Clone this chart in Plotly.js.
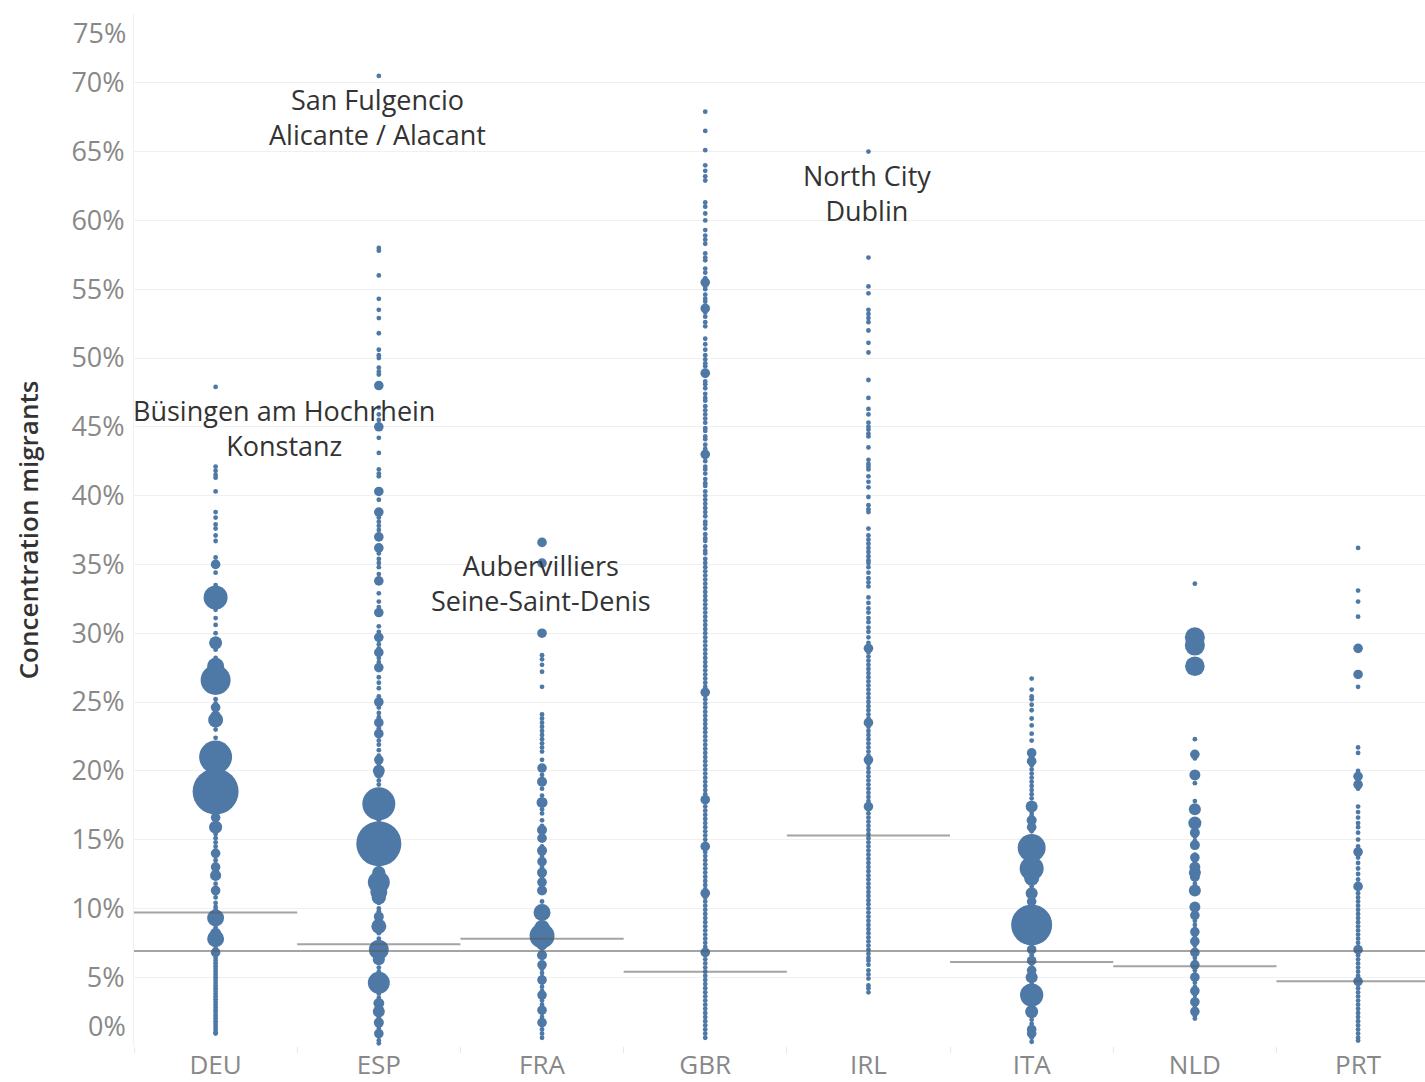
<!DOCTYPE html>
<html><head><meta charset="utf-8">
<script src="https://cdn.plot.ly/plotly-3.0.1.min.js"></script>
<style>html,body{margin:0;padding:0;background:#fff;overflow:hidden}</style>
</head><body><div id="chart" style="width:1425px;height:1082px"></div>
<script>
// ---------------- DATA ----------------
const countries = ['DEU','ESP','FRA','GBR','IRL','ITA','NLD','PRT'];
const countryMean = [9.7, 7.4, 7.8, 5.4, 15.3, 6.1, 5.8, 4.7];
const overallMean = 6.9;
const yTicks = [0,5,10,15,20,25,30,35,40,45,50,55,60,65,70,75];

// small regions (drawn at minimum mark size)
const deuMinor = [47.9, 42.1, 41.8, 41.5, 41.3, 40.3, 38.8, 38.4, 37.9, 37.6, 37.1, 36.7, 35.5, 34.4, 33.5, 31.7, 31.1, 30.6, 30.0, 28.8, 28.2, 25.8, 25.2, 24.9, 24.4, 23.0, 22.4, 20.1, 19.6, 17.0, 16.6, 15.4, 15.1, 14.8, 14.5, 14.2, 13.9, 13.5, 13.2, 12.9, 11.8, 11.5, 11.1, 10.8, 10.4, 10.1, 9.9, 8.6, 8.3, 7.1, 6.6, 6.4, 6.2, 6.0, 5.8, 5.6, 5.4, 5.2, 5.0, 4.8, 4.6, 4.4, 4.2, 4.0, 3.8, 3.6, 3.4, 3.2, 3.0, 2.8, 2.6, 2.4, 2.2, 2.0, 1.8, 1.6, 1.4, 1.2, 1.0, 0.9];
const espMinor = [70.5, 58.0, 57.8, 56.0, 54.3, 53.5, 52.9, 51.8, 50.6, 50.2, 50.0, 49.3, 49.0, 48.8, 46.4, 45.9, 45.5, 44.2, 43.1, 41.9, 41.6, 41.4, 39.7, 38.4, 38.1, 37.8, 37.5, 35.8, 35.4, 35.1, 34.8, 34.3, 32.9, 32.3, 31.9, 30.5, 30.1, 29.2, 28.9, 28.2, 27.9, 26.8, 26.4, 26.0, 25.4, 24.6, 24.2, 23.9, 23.1, 22.5, 22.2, 21.9, 21.5, 21.1, 20.5, 19.3, 19.0, 18.6, 16.4, 16.1, 13.2, 12.9, 10.4, 10.0, 9.8, 8.2, 7.8, 5.7, 5.4, 5.1, 3.8, 3.5, 2.1, 1.3, 1.0, 0.7, 0.4, 0.2];
const fraMinor = [28.4, 28.1, 27.7, 27.2, 26.1, 24.1, 23.8, 23.5, 23.2, 22.9, 22.6, 22.3, 22.0, 21.7, 21.4, 20.8, 19.7, 18.7, 18.2, 17.2, 16.9, 16.4, 16.0, 14.5, 13.8, 13.0, 12.2, 11.8, 10.5, 10.1, 8.9, 7.2, 6.0, 5.6, 5.3, 5.0, 4.6, 4.3, 4.0, 3.6, 3.3, 3.0, 2.7, 2.4, 2.1, 1.8, 1.5, 1.2, 0.9, 0.6];
const gbrMinor = [67.9, 66.5, 65.1, 64.0, 63.6, 63.2, 62.9, 61.3, 61.0, 60.5, 60.0, 59.3, 58.9, 58.6, 58.3, 57.6, 57.3, 57.1, 56.5, 56.2, 55.8, 55.2, 55.0, 54.6, 54.3, 54.1, 53.8, 53.3, 53.0, 52.6, 52.3, 51.4, 51.0, 50.6, 50.2, 49.9, 49.6, 49.4, 49.0, 48.7, 48.3, 48.1, 47.8, 47.4, 47.1, 46.9, 46.5, 46.2, 45.9, 45.6, 45.3, 44.9, 44.7, 44.3, 44.1, 43.7, 43.4, 43.2, 42.8, 42.5, 42.1, 41.9, 41.6, 41.2, 40.9, 40.7, 40.3, 40.0, 39.7, 39.4, 39.1, 38.8, 38.5, 38.1, 37.9, 37.6, 37.2, 36.9, 36.7, 36.3, 36.0, 35.8, 35.4, 35.1, 34.8, 34.5, 34.2, 33.9, 33.6, 33.3, 33.0, 32.7, 32.4, 32.1, 31.8, 31.5, 31.2, 30.9, 30.6, 30.3, 30.0, 29.7, 29.4, 29.1, 28.8, 28.5, 28.2, 27.9, 27.6, 27.3, 27.0, 26.7, 26.4, 26.1, 25.8, 25.5, 25.2, 24.9, 24.6, 24.3, 24.0, 23.7, 23.4, 23.1, 22.8, 22.5, 22.2, 21.9, 21.6, 21.3, 21.0, 20.7, 20.4, 20.1, 19.8, 19.5, 19.2, 18.9, 18.6, 18.3, 18.0, 17.7, 17.4, 17.1, 16.8, 16.5, 16.2, 15.9, 15.6, 15.3, 15.0, 14.7, 14.4, 14.1, 13.8, 13.5, 13.2, 12.9, 12.6, 12.3, 12.0, 11.7, 11.4, 11.1, 10.8, 10.5, 10.2, 9.9, 9.6, 9.3, 9.0, 8.7, 8.4, 8.1, 7.8, 7.5, 7.2, 6.9, 6.6, 6.3, 6.0, 5.7, 5.4, 5.1, 4.8, 4.5, 4.2, 3.9, 3.6, 3.3, 3.0, 2.7, 2.4, 2.1, 1.8, 1.5, 1.2, 0.9, 0.6];
const irlMinor = [65.0, 57.3, 55.2, 54.7, 53.5, 53.2, 52.9, 52.6, 52.0, 51.1, 50.4, 48.4, 47.1, 46.3, 45.9, 45.3, 45.0, 44.8, 44.5, 44.3, 43.5, 42.6, 42.3, 42.1, 41.9, 41.4, 41.0, 40.6, 39.9, 39.3, 39.0, 38.8, 37.6, 37.1, 36.8, 36.5, 36.2, 35.9, 35.6, 35.3, 35.1, 34.8, 34.4, 34.0, 33.7, 33.4, 32.6, 32.2, 31.8, 31.5, 31.1, 30.8, 30.4, 30.1, 29.7, 29.3, 28.6, 28.3, 28.0, 27.7, 27.4, 27.1, 26.8, 26.5, 26.2, 25.9, 25.6, 25.3, 25.0, 24.7, 24.4, 24.1, 23.8, 23.5, 23.2, 22.9, 22.6, 22.3, 22.0, 21.7, 21.4, 21.1, 20.8, 20.5, 20.2, 19.9, 19.6, 19.3, 19.0, 18.7, 18.4, 18.1, 17.8, 17.5, 17.2, 16.9, 16.6, 16.3, 16.0, 15.7, 15.4, 15.1, 14.8, 14.5, 14.2, 13.9, 13.6, 13.3, 13.0, 12.7, 12.4, 12.1, 11.8, 11.5, 11.2, 10.9, 10.6, 10.3, 10.0, 9.7, 9.4, 9.1, 8.8, 8.5, 8.2, 7.9, 7.6, 7.3, 7.0, 6.7, 6.4, 6.2, 5.9, 5.5, 5.2, 4.9, 4.4, 4.2, 3.9];
const itaMinor = [26.7, 25.9, 25.4, 25.2, 24.8, 24.4, 23.8, 23.3, 22.7, 22.2, 20.4, 20.1, 19.8, 19.5, 19.2, 18.9, 18.6, 18.3, 18.0, 17.0, 16.8, 15.6, 13.8, 11.6, 10.6, 10.3, 10.0, 9.7, 7.5, 7.2, 6.9, 6.6, 6.3, 6.0, 5.7, 5.4, 4.5, 4.2, 3.0, 2.2, 1.9, 1.6, 1.3, 1.0, 0.6, 0.3];
const nldMinor = [33.6, 22.3, 20.9, 19.1, 17.8, 15.2, 14.9, 13.9, 13.4, 12.1, 11.8, 9.7, 9.4, 9.1, 8.8, 8.5, 8.2, 7.9, 7.6, 7.3, 7.0, 6.7, 6.4, 6.1, 5.8, 5.5, 5.2, 4.9, 4.6, 4.3, 4.0, 3.7, 3.4, 3.1, 2.8, 2.5, 2.2, 2.0];
const prtMinor = [36.2, 33.1, 32.3, 31.2, 26.1, 21.7, 21.3, 20.0, 19.3, 18.7, 17.4, 17.0, 16.6, 16.2, 15.9, 15.5, 15.0, 14.5, 13.7, 13.3, 12.9, 12.5, 12.1, 11.1, 10.8, 10.5, 10.2, 9.9, 9.6, 9.3, 9.0, 8.7, 8.4, 8.1, 7.8, 7.5, 7.2, 6.9, 6.6, 6.3, 6.0, 5.7, 5.4, 5.1, 4.8, 4.5, 4.2, 3.9, 3.6, 3.3, 3.0, 2.7, 2.4, 2.1, 1.8, 1.5, 1.2, 0.9, 0.6, 0.4];

// larger regions: share of migrants (%) and population (thousands)
const deuMajorVal = [35.0, 32.6, 29.3, 27.6, 26.6, 24.6, 24.0, 23.7, 21.0, 18.5, 16.6, 15.9, 14.0, 13.0, 12.4, 11.3, 9.3, 8.2, 7.8, 6.8];
const deuMajorPop = [140, 980, 290, 490, 1530, 150, 170, 380, 1850, 3600, 90, 290, 120, 90, 210, 110, 490, 200, 490, 140];
const espMajorVal = [48.0, 45.0, 40.3, 38.8, 37.0, 36.2, 33.8, 31.5, 29.7, 28.6, 27.5, 25.0, 23.5, 22.7, 20.8, 20.0, 19.8, 17.6, 14.7, 12.6, 11.9, 11.2, 10.8, 9.4, 8.7, 7.0, 6.7, 6.3, 4.6, 3.1, 2.5, 1.7, 0.9];
const espMajorPop = [40, 70, 40, 40, 40, 40, 80, 80, 80, 80, 80, 130, 80, 80, 110, 240, 110, 1850, 3450, 300, 820, 490, 350, 170, 380, 680, 300, 250, 820, 200, 245, 170, 110];
const fraMajorVal = [36.6, 35.1, 30.0, 20.2, 19.2, 17.7, 15.7, 15.1, 14.2, 13.4, 12.6, 11.9, 11.3, 9.7, 8.6, 8.0, 7.3, 6.6, 5.9, 4.8, 3.7, 2.6, 1.7];
const fraMajorPop = [45, 40, 80, 140, 170, 205, 170, 140, 170, 140, 170, 140, 170, 490, 400, 1060, 170, 170, 120, 100, 100, 80, 60];
const gbrMajorVal = [55.5, 53.6, 48.9, 43.0, 25.7, 17.9, 14.5, 11.1, 6.8];
const gbrMajorPop = [45, 45, 45, 45, 45, 45, 45, 45, 45];
const irlMajorVal = [28.9, 23.5, 20.8, 17.4];
const irlMajorPop = [50, 40, 40, 35];
const itaMajorVal = [21.3, 20.7, 17.4, 16.4, 15.9, 14.4, 12.9, 12.2, 11.1, 10.5, 8.8, 7.0, 6.2, 5.5, 5.0, 3.7, 2.5, 1.2, 0.9];
const itaMajorPop = [60, 45, 245, 170, 140, 1330, 980, 380, 245, 120, 2860, 100, 100, 100, 245, 920, 290, 140, 80];
const nldMajorVal = [29.7, 29.1, 27.6, 21.2, 19.7, 17.2, 16.2, 15.5, 14.6, 13.7, 13.0, 12.6, 12.3, 11.3, 10.1, 9.5, 8.3, 7.6, 6.8, 5.9, 5.0, 4.0, 3.2, 2.5];
const nldMajorPop = [680, 680, 650, 60, 205, 245, 290, 170, 170, 120, 205, 245, 170, 245, 205, 80, 100, 80, 100, 80, 80, 80, 60, 60];
const prtMajorVal = [28.9, 27.0, 19.6, 19.0, 14.1, 11.6, 7.0, 4.7];
const prtMajorPop = [45, 45, 60, 50, 50, 50, 70, 70];

const labelText = ['San Fulgencio<br>Alicante / Alacant', 'Büsingen am Hochrhein<br>Konstanz', 'Aubervilliers<br>Seine-Saint-Denis', 'North City<br>Dublin'];
const labelCountry = ['ESP', 'DEU', 'FRA', 'IRL'];
const labelValue = [70.5, 47.9, 36.6, 65.0];

// ---------------- BUILD ----------------
const minorSets = [deuMinor, espMinor, fraMinor, gbrMinor, irlMinor, itaMinor, nldMinor, prtMinor];
const majorVals = [deuMajorVal, espMajorVal, fraMajorVal, gbrMajorVal, irlMajorVal, itaMajorVal, nldMajorVal, prtMajorVal];
const majorPops = [deuMajorPop, espMajorPop, fraMajorPop, gbrMajorPop, irlMajorPop, itaMajorPop, nldMajorPop, prtMajorPop];

const BLUE = 'rgb(78,121,167)';
const minX = [], minY = [];
minorSets.forEach((arr, i) => arr.forEach(v => { minX.push(countries[i]); minY.push(v); }));
const majX = [], majY = [], majS = [];
majorVals.forEach((arr, i) => arr.forEach((v, j) => { majX.push(countries[i]); majY.push(v); majS.push(majorPops[i][j]); }));
const maxPop = Math.max(...majS);
const maxDiam = 46;
const MINSIZE = 4.8;

const traces = [
  {type:'scatter', mode:'markers', x:minX, y:minY, hoverinfo:'y',
   marker:{color:BLUE, size:MINSIZE, opacity:1, line:{width:0}}},
  {type:'scatter', mode:'markers', x:majX, y:majY, hoverinfo:'y',
   marker:{color:BLUE, opacity:1, size:majS, sizemode:'area', sizeref:2*maxPop/(maxDiam*maxDiam), sizemin:MINSIZE, line:{width:0}}}
];

const xMax = 7.41;
const shapes = [];
countries.forEach((c, i) => {
  shapes.push({type:'line', xref:'x', yref:'y', x0:i-0.5, x1:Math.min(i+0.5, xMax), y0:countryMean[i], y1:countryMean[i],
    line:{color:'rgba(90,90,90,0.55)', width:2}, layer:'above'});
});
shapes.push({type:'line', xref:'x', yref:'y', x0:-0.5, x1:xMax, y0:overallMean, y1:overallMean,
  line:{color:'rgba(90,90,90,0.55)', width:2}, layer:'above'});

const FONT = 'Open Sans, Noto Sans, sans-serif';
const TICKFONT = {family:FONT, size:27, color:'#888888'};
const annotations = labelText.map((t, k) => ({
  x: labelCountry[k], y: labelValue[k], xref:'x', yref:'y', text:t, showarrow:false,
  xanchor:'center', yanchor:'middle', yshift:-41, xshift: labelCountry[k]==='DEU' ? 68 : -1,
  font:{family:FONT, size:27, color:'#333333'}
}));
// edge tick labels placed inside the plot height (as in the original)
annotations.push({xref:'paper', yref:'y', x:0, y:75, text:'75%', showarrow:false, xanchor:'right', yanchor:'top',
  xshift:-6, yshift:2, font:TICKFONT});
annotations.push({xref:'paper', yref:'y', x:0, y:0, text:'0%', showarrow:false, xanchor:'right', yanchor:'bottom',
  xshift:-6, yshift:0, font:TICKFONT});

const layout = {
  width:1425, height:1082,
  margin:{l:134, r:0, t:14, b:36},
  paper_bgcolor:'#fff', plot_bgcolor:'#fff',
  showlegend:false,
  font:{family:FONT},
  xaxis:{type:'category', categoryorder:'array', categoryarray:countries, range:[-0.5, xMax],
    showgrid:false, zeroline:false, showline:false,
    ticks:'outside', tickson:'boundaries', ticklen:6, tickcolor:'#e8e8e8', ticklabelstandoff:1,
    tickfont:{family:FONT, size:26, color:'#888888'}},
  yaxis:{range:[0,75], tickvals:yTicks, ticktext:yTicks.map(v => (v===0||v===75) ? '' : v + '%'),
    showgrid:true, gridcolor:'#f0f0f0', gridwidth:1, zeroline:false,
    showline:true, linecolor:'#f0f0f0', linewidth:1, ticks:'', ticklabelstandoff:3,
    tickfont:TICKFONT,
    title:{text:'Concentration migrants', standoff:25, font:{family:FONT, size:26, color:'#333333', weight:600}}},
  shapes:shapes,
  annotations:annotations
};

Plotly.newPlot('chart', traces, layout, {displayModeBar:false, responsive:false});
</script>
</body></html>
